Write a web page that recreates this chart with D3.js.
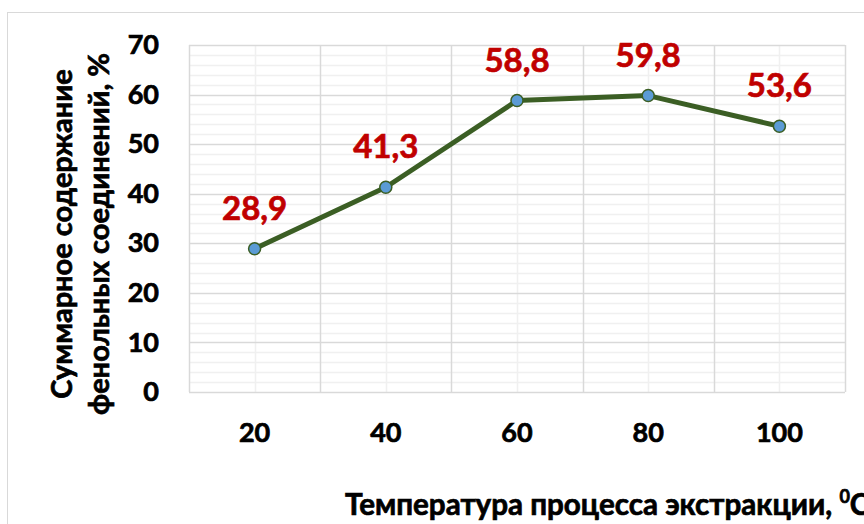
<!DOCTYPE html>
<html>
<head>
<meta charset="utf-8">
<script src="https://cdn.jsdelivr.net/npm/d3@7"></script>
<style>
  body { margin: 0; background: #fff; }
  svg { display: block; font-family: Lato, "Open Sans", sans-serif; }
  .bold-text { font-weight: 700; stroke-width: 0.7px; paint-order: stroke; }
</style>
</head>
<body>
<div class="chart-container"></div>
<script>
// data
const temperatures = ['20', '40', '60', '80', '100'];
const phenolValues = [28.9, 41.3, 58.8, 59.8, 53.6];
const valueLabels = ['28,9', '41,3', '58,8', '59,8', '53,6'];
const yTicks = [0, 10, 20, 30, 40, 50, 60, 70];

const width = 864;
const height = 524;
const plot = { left: 189, right: 845, top: 45, bottom: 392 };

const svg = d3.select('.chart-container')
  .append('svg')
  .attr('width', width)
  .attr('height', height);

// outer chart frame
svg.append('rect')
  .attr('x', 7.5).attr('y', 12.5)
  .attr('width', 900).attr('height', 600)
  .attr('fill', 'none')
  .attr('stroke', '#d9d9d9');

const x = d3.scaleBand()
  .domain(temperatures)
  .range([plot.left, plot.right]);

const y = d3.scaleLinear()
  .domain([0, 70])
  .range([plot.bottom, plot.top]);

// minor horizontal grid every 2
const grid = svg.append('g');
grid.selectAll('.hminor')
  .data(d3.range(0, 71, 2).filter(v => v % 10 !== 0))
  .enter().append('line')
  .attr('x1', plot.left).attr('x2', plot.right)
  .attr('y1', d => Math.round(y(d)) + 0.5).attr('y2', d => Math.round(y(d)) + 0.5)
  .attr('stroke', '#f0f0f0').attr('stroke-width', 1.5);

// minor vertical grid at category centres
grid.selectAll('.vminor')
  .data(temperatures)
  .enter().append('line')
  .attr('x1', d => Math.round(x(d) + x.bandwidth() / 2) + 0.5)
  .attr('x2', d => Math.round(x(d) + x.bandwidth() / 2) + 0.5)
  .attr('y1', plot.top).attr('y2', plot.bottom)
  .attr('stroke', '#f0f0f0').attr('stroke-width', 1.5);

// major horizontal grid
grid.selectAll('.hmajor')
  .data(yTicks)
  .enter().append('line')
  .attr('x1', plot.left).attr('x2', plot.right)
  .attr('y1', d => Math.round(y(d)) + 0.5).attr('y2', d => Math.round(y(d)) + 0.5)
  .attr('stroke', '#d9d9d9').attr('stroke-width', 1.5);

// major vertical grid at category boundaries
grid.selectAll('.vmajor')
  .data(temperatures.map(d => x(d)).concat([plot.right]))
  .enter().append('line')
  .attr('x1', d => Math.round(d) + 0.5).attr('x2', d => Math.round(d) + 0.5)
  .attr('y1', plot.top).attr('y2', plot.bottom)
  .attr('stroke', '#d9d9d9').attr('stroke-width', 1.5);

// y axis tick labels
svg.append('g')
  .attr('transform', `translate(${plot.left - 30}, 0)`)
  .call(d3.axisLeft(y).tickValues(yTicks).tickSize(0).tickPadding(0))
  .call(g => g.select('.domain').remove())
  .selectAll('text')
  .attr('class', 'bold-text')
  .attr('font-family', 'Lato, sans-serif')
  .attr('font-size', 27)
  .attr('fill', '#000')
  .attr('stroke', '#000');

// x axis tick labels
svg.append('g')
  .attr('transform', 'translate(0, 423)')
  .call(d3.axisBottom(x).tickSize(0).tickPadding(0))
  .call(g => g.select('.domain').remove())
  .selectAll('text')
  .attr('class', 'bold-text')
  .attr('font-family', 'Lato, sans-serif')
  .attr('font-size', 27)
  .attr('fill', '#000')
  .attr('stroke', '#000');

// line
const line = d3.line()
  .x((d, i) => x(temperatures[i]) + x.bandwidth() / 2)
  .y(d => y(d));

svg.append('path')
  .datum(phenolValues)
  .attr('d', line)
  .attr('fill', 'none')
  .attr('stroke', '#3b5e24')
  .attr('stroke-width', 5)
  .attr('stroke-linejoin', 'round');

// markers
svg.selectAll('.marker')
  .data(phenolValues)
  .enter().append('circle')
  .attr('cx', (d, i) => x(temperatures[i]) + x.bandwidth() / 2)
  .attr('cy', d => y(d))
  .attr('r', 6)
  .attr('fill', '#5b9bd5')
  .attr('stroke', '#3b5e24')
  .attr('stroke-width', 1.5);

// data labels
svg.selectAll('.value-label')
  .data(phenolValues)
  .enter().append('text')
  .attr('class', 'bold-text')
  .attr('x', (d, i) => x(temperatures[i]) + x.bandwidth() / 2)
  .attr('y', d => y(d) - 29)
  .attr('text-anchor', 'middle')
  .attr('font-size', 33)
  .attr('fill', '#c00000')
  .attr('stroke', '#c00000')
  .text((d, i) => valueLabels[i]);

// y axis title, two lines
const yTitle = svg.append('text')
  .attr('class', 'bold-text')
  .attr('transform', 'translate(81, 234) rotate(-90)')
  .attr('text-anchor', 'middle')
  .attr('font-size', 29)
  .attr('fill', '#000')
  .attr('stroke', '#000');
yTitle.append('tspan').attr('x', 0).attr('y', -9).text('Суммарное содержание');
yTitle.append('tspan').attr('x', 0).attr('y', 28).text('фенольных соединений, %');

// x axis title
const xTitle = svg.append('text')
  .attr('class', 'bold-text')
  .attr('x', 345)
  .attr('y', 515)
  .attr('font-size', 29.6)
  .attr('fill', '#000')
  .attr('stroke', '#000');
xTitle.append('tspan').text('Температура процесса экстракции, ');
xTitle.append('tspan').attr('font-size', 18).attr('dy', -12).text('0');
xTitle.append('tspan').attr('dy', 12).text('С');
</script>
</body>
</html>
